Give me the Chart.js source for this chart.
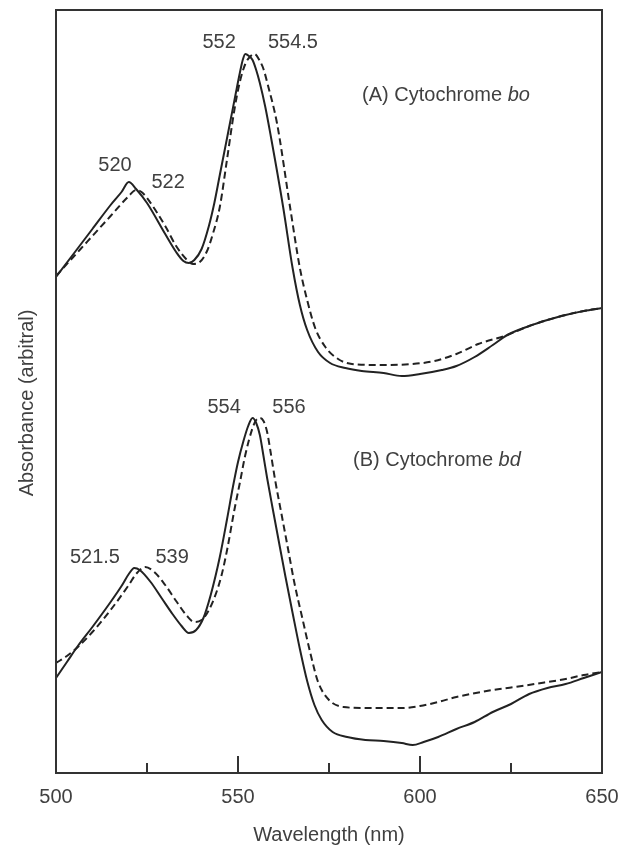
<!DOCTYPE html>
<html>
<head>
<meta charset="utf-8">
<script src="https://cdn.jsdelivr.net/npm/chart.js@4.4.1/dist/chart.umd.min.js"></script>
<style>
  html, body { margin: 0; padding: 0; background: #fff; }
  #chartBox { width: 634px; height: 849px; }
</style>
</head>
<body>
<div id="chartBox"><canvas id="myChart" width="634" height="849"></canvas></div>
<script>
// (A) cytochrome bo, solid trace
const waveBoSolid = [500, 505, 510, 515, 518, 520, 522, 525, 530, 533, 535, 536.5, 538, 540, 542, 543.5, 545, 547.8, 549.3, 550.5, 551.3, 552, 553, 554, 555, 556, 557.5, 559, 562.4, 565, 567, 569, 572, 575.3, 579.5, 584, 590, 595, 600, 606, 610, 615, 620, 624, 630, 635, 640, 645, 650];
const absBoSolid  = [496, 520, 544, 568, 581, 591, 584, 570, 539, 521, 512, 510, 513, 524, 547, 570, 598, 650, 678, 700, 713, 719, 717, 713, 703, 690, 666, 637, 566, 505, 468, 443, 421, 410, 405, 402, 400, 397, 399, 403, 407, 416, 428, 438, 447, 453, 458, 462, 465];

// (A) cytochrome bo, dashed trace
const waveBoDashed = [500, 505, 510, 515, 520, 522, 523.5, 525, 530, 533, 536, 537.6, 539.5, 541.5, 543, 545, 547, 549, 550.5, 552, 553.5, 554.5, 556, 557, 558.2, 560.7, 564.3, 567, 569, 571.2, 574, 577.5, 581.3, 590, 598, 604, 610, 616, 624, 630, 635, 640, 645, 650];
const absBoDashed  = [497, 517, 537, 557, 577, 583, 581, 575, 547, 527, 513, 509, 511, 522, 538, 566, 614, 663, 691, 709, 717, 719, 712, 704, 688, 650, 566, 505, 473, 445, 426, 414, 409, 408, 409, 412, 419, 429, 438, 447, 453, 458, 462, 465];

// (B) cytochrome bd, solid trace
const waveBdSolid = [500, 503, 506, 510, 515, 518, 520, 521.5, 523, 526, 529, 532, 534.5, 536.5, 538.5, 540.5, 542.5, 545, 547, 548.6, 550, 551.5, 552.8, 554, 555, 556, 557, 558, 559.5, 561.5, 563, 565, 567, 569, 571, 573, 576, 580, 585, 590, 595, 598, 601, 605, 610, 615, 620, 625, 630, 635, 640, 645, 650];
const absBdSolid  = [95, 111, 127, 146, 171, 187, 199, 205, 203, 191, 175, 159, 147, 140, 143, 155, 178, 216, 254, 286, 311, 332, 347, 355, 350, 338, 317, 295, 265, 226, 197, 160, 124, 92, 68, 53, 41, 36, 33, 32, 30, 28, 31, 36, 44, 51, 61, 69, 79, 85, 89, 95, 101];

// (B) cytochrome bd, dashed trace
const waveBdDashed = [500, 503, 506, 510, 515, 520, 522, 524.5, 527, 530, 533, 536, 538, 540, 542, 544, 545.5, 547, 549, 550.5, 552, 554, 555, 556, 557, 558, 559, 560.2, 562, 563.7, 565.5, 567.6, 570, 572, 575, 579, 585, 595, 600, 605, 610, 620, 628, 635, 640, 645, 650];
const absBdDashed  = [110, 117, 126, 141, 163, 188, 199, 206, 201, 188, 172, 157, 151, 153, 163, 180, 198, 223, 263, 290, 318, 345, 353, 355, 352, 341, 320, 293, 258, 225, 190, 156, 118, 91, 73, 66, 65, 65, 67, 71, 76, 83, 87, 91, 94, 98, 101];

// x axis ticks (drawn inside the frame)
const majorTicks = [550, 600];
const minorTicks = [525, 575, 625];

// peak labels: text, wavelength, absorbance
const peakLabels = [
  ['520', 516.2, 608], ['522', 530.8, 591], ['552', 544.8, 731], ['554.5', 565.1, 731],
  ['521.5', 510.7, 216], ['539', 531.9, 216], ['554', 546.2, 366], ['556', 564.0, 366]
];
// panel captions: prefix, italic part, wavelength (left edge), absorbance
const panelLabels = [
  ['(A) Cytochrome ', 'bo', 584.1, 678],
  ['(B) Cytochrome ', 'bd', 581.6, 313]
];

const FONT = "'Liberation Sans', Arial, Helvetica, sans-serif";
const TEXT_COLOR = '#404040';
const LINE_COLOR = '#222';

function toPoints(xs, ys) {
  return xs.map((x, i) => ({ x: x, y: ys[i] }));
}

const framePlugin = {
  id: 'frame',
  afterDraw(chart) {
    const ctx = chart.ctx;
    const area = chart.chartArea;
    const xs = chart.scales.x;
    const ys = chart.scales.y;
    ctx.save();
    ctx.strokeStyle = '#333';
    ctx.lineWidth = 2;
    ctx.strokeRect(area.left, area.top, area.right - area.left, area.bottom - area.top);

    // ticks pointing up into the plot
    ctx.beginPath();
    majorTicks.forEach(v => {
      const px = xs.getPixelForValue(v);
      ctx.moveTo(px, area.bottom);
      ctx.lineTo(px, area.bottom - 17);
    });
    minorTicks.forEach(v => {
      const px = xs.getPixelForValue(v);
      ctx.moveTo(px, area.bottom);
      ctx.lineTo(px, area.bottom - 10);
    });
    ctx.stroke();

    ctx.fillStyle = TEXT_COLOR;
    ctx.font = '20px ' + FONT;
    ctx.textAlign = 'center';
    ctx.textBaseline = 'middle';
    peakLabels.forEach(([txt, wx, wy]) => {
      ctx.fillText(txt, xs.getPixelForValue(wx), ys.getPixelForValue(wy));
    });

    ctx.textAlign = 'left';
    panelLabels.forEach(([pre, ital, wx, wy]) => {
      const px = xs.getPixelForValue(wx);
      const py = ys.getPixelForValue(wy);
      ctx.font = '20px ' + FONT;
      ctx.fillText(pre, px, py);
      const w = ctx.measureText(pre).width;
      ctx.font = 'italic 20px ' + FONT;
      ctx.fillText(ital, px + w, py);
    });

    // y axis title
    ctx.font = '20px ' + FONT;
    ctx.textAlign = 'center';
    ctx.translate(27, 403);
    ctx.rotate(-Math.PI / 2);
    ctx.fillText('Absorbance (arbitral)', 0, 0);
    ctx.restore();
  }
};

const lineStyle = {
  borderColor: LINE_COLOR,
  backgroundColor: LINE_COLOR,
  borderWidth: 2,
  pointRadius: 0,
  showLine: true,
  cubicInterpolationMode: 'monotone'
};

const ctx = document.getElementById('myChart');
const chart = new Chart(ctx, {
  type: 'scatter',
  data: {
    datasets: [
      { ...lineStyle, label: 'bo', data: toPoints(waveBoSolid, absBoSolid) },
      { ...lineStyle, label: 'bo dashed', data: toPoints(waveBoDashed, absBoDashed), borderDash: [7, 4] },
      { ...lineStyle, label: 'bd', data: toPoints(waveBdSolid, absBdSolid) },
      { ...lineStyle, label: 'bd dashed', data: toPoints(waveBdDashed, absBdDashed), borderDash: [7, 4] }
    ]
  },
  options: {
    responsive: false,
    animation: false,
    layout: { padding: { top: 10, right: 32, left: 56, bottom: 0 } },
    scales: {
      x: {
        type: 'linear',
        min: 500,
        max: 650,
        afterFit: (scale) => { scale.height = 76; },
        grid: { display: false, drawTicks: false },
        border: { display: false },
        ticks: {
          stepSize: 25,
          autoSkip: false,
          maxRotation: 0,
          padding: 12,
          color: TEXT_COLOR,
          font: { family: FONT, size: 20 },
          callback: (v) => (v % 50 === 0 ? String(v) : '')
        },
        title: {
          display: true,
          text: 'Wavelength (nm)',
          color: TEXT_COLOR,
          font: { family: FONT, size: 20 },
          padding: { top: 0, bottom: 2 }
        }
      },
      y: {
        display: false,
        min: 0,
        max: 763
      }
    },
    plugins: {
      legend: { display: false },
      tooltip: { enabled: false },
      colors: { enabled: false }
    }
  },
  plugins: [framePlugin]
});
</script>
</body>
</html>
